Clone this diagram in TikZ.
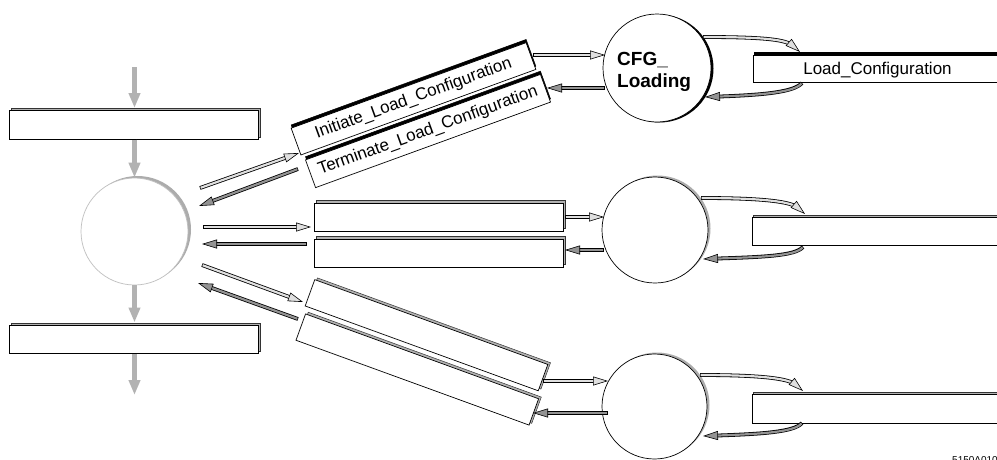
\documentclass[tikz,border=0pt]{standalone}
\usepackage{fontspec}
\setmainfont{Liberation Sans}
\usetikzlibrary{arrows.meta,decorations.markings,calc}
\begin{document}
\begin{tikzpicture}[x=1pt,y=-1pt,
  frontbox/.style={draw=black, fill=white, line width=0.7pt, minimum width=249pt, minimum height=28.5pt, inner sep=0pt, font=\fontsize{17}{20}\selectfont},
  greyshadow/.style={draw=black!80, fill=gray!60, line width=0.5pt, minimum width=249pt, minimum height=28.5pt, inner sep=0pt},
  blackshadow/.style={draw=black, fill=black, line width=0.5pt, minimum width=249pt, minimum height=28.5pt, inner sep=0pt},
  bubble/.style={circle, draw=black, fill=white, line width=0.7pt, inner sep=0pt},
  bubbleshade/.style={circle, draw=none, fill=#1, inner sep=0pt},
  garrow/.style={draw=gray!60, line width=4.5pt, -{Triangle[length=15pt,width=11pt]}},
  barrow/.style={draw=#1, line width=2.2pt, shorten >=10pt, shorten <=0.7pt,
    preaction={draw=black, line width=3.8pt, shorten >=10pt, shorten <=0pt},
    postaction={decorate, decoration={markings, mark=at position 1 with {\arrow[line width=0.6pt, black]{Triangle[length=15pt, width=9pt, fill=#1]}}}}},
  outarrow/.style={barrow=gray!25},
  inarrow/.style={barrow=gray!85}
]
\useasboundingbox (0,0) rectangle (997,459);
\fill[white] (0,0) rectangle (997,459);
\clip (0,0) rectangle (997,459);

% ---------- left column ----------
\node[greyshadow] (R1s) at (136,122.5) {};
\node[frontbox] (R1) at (134,125) {};
\node[bubbleshade=gray!65, minimum size=107pt] (Ls) at (137.5,229.5) {};
\node[bubble, draw=gray!50, minimum size=107pt] (L) at (134.5,231.5) {};
\node[greyshadow] (R2s) at (136,337) {};
\node[frontbox] (R2) at (134,339.5) {};
\coordinate (Ltop) at (134.5,67);
\coordinate (Lbot) at (134.5,395);
\draw[garrow] (Ltop) -- (Ltop |- R1s.north);
\draw[garrow] (L.north |- R1.south) -- (L.north);
\draw[garrow] (L.south) -- (L.south |- R2s.north);
\draw[garrow] (L.south |- R2.south) -- (Lbot);

% ---------- top pair (rotated) ----------
\node[blackshadow, rotate=20, minimum width=250pt] (T1s) at (413.5,95.6) {};
\node[frontbox, rotate=20, minimum width=250pt] (T1) at (413.5,98.8) {Initiate\_Load\_Configuration};
\node[blackshadow, rotate=20, minimum width=250pt, minimum height=29.5pt] (T2s) at (428,127.8) {};
\node[frontbox, rotate=20, minimum width=250pt, minimum height=29.5pt] (T2) at (428,131) {Terminate\_Load\_Configuration};

% ---------- middle pair ----------
\node[greyshadow, minimum height=28pt] (M1s) at (440.5,214.7) {};
\node[frontbox, minimum height=28pt] (M1) at (438.5,217) {};
\node[greyshadow, minimum height=28pt] (M2s) at (440.5,250.5) {};
\node[frontbox, minimum height=28pt] (M2) at (438.5,253) {};

% ---------- bottom pair (rotated) ----------
\node[greyshadow, rotate=-20, minimum width=248pt, minimum height=28pt] (B1s) at (429.2,333.5) {};
\node[frontbox, rotate=-20, minimum width=248pt, minimum height=28pt] (B1) at (426.5,335.2) {};
\node[greyshadow, rotate=-20, minimum width=248pt, minimum height=28pt] (B2s) at (420,367.8) {};
\node[frontbox, rotate=-20, minimum width=248pt, minimum height=28pt] (B2) at (417.3,369.5) {};

% ---------- right circles ----------
\node[bubbleshade=black, minimum size=108pt] (E1s) at (659.5,68.5) {};
\node[bubble, minimum size=108pt] (E1) at (657,68) {};
\node[anchor=north west, align=left, inner sep=0pt, font=\bfseries\fontsize{19}{21.6}\selectfont] (E1t) at (617,52) {CFG\_\\Loading};
\node[bubbleshade=gray!65, minimum size=106pt] (E2s) at (657.5,228.5) {};
\node[bubble, minimum size=106pt] (E2) at (655,230) {};
\node[bubbleshade=gray!65, minimum size=105pt] (E3s) at (657,405) {};
\node[bubble, minimum size=105pt] (E3) at (654.5,406.5) {};

% ---------- right rectangles ----------
\node[blackshadow, minimum width=257pt, minimum height=27pt] (D1s) at (882.5,65.5) {};
\node[frontbox, minimum width=257pt, minimum height=27pt] (D1) at (881.5,68.5) {};
\node[anchor=base, inner sep=0pt, font=\fontsize{17}{20}\selectfont] (D1t) at (877.5,74) {Load\_Configuration};
\node[greyshadow, minimum width=258pt, minimum height=28pt] (D2s) at (882.5,229) {};
\node[frontbox, minimum width=258pt, minimum height=28pt] (D2) at (881,231.6) {};
\node[greyshadow, minimum width=258pt, minimum height=28.5pt] (D3s) at (882.5,406.5) {};
\node[frontbox, minimum width=258pt, minimum height=28.5pt] (D3) at (881,409) {};

% ---------- connector end points ----------
\coordinate (a1s) at (200,188);  \coordinate (a1e) at (299,153);
\coordinate (a2s) at (298,169);  \coordinate (a2e) at (199,206);
\coordinate (a3s) at (203,227);  \coordinate (a3e) at (311,227);
\coordinate (a4s) at (307,244);  \coordinate (a4e) at (202,244);
\coordinate (a5s) at (202,265);  \coordinate (a5e) at (303,302);
\coordinate (a6s) at (298,319);  \coordinate (a6e) at (198,283);

\coordinate (b1s) at (533,55);   \coordinate (b1e) at (605,55);
\coordinate (b2s) at (605,88);   \coordinate (b2e) at (547,88);
\coordinate (b3s) at (565,217);  \coordinate (b3e) at (604,217);
\coordinate (b4s) at (604,250);  \coordinate (b4e) at (565,250);
\coordinate (b5s) at (543,381);  \coordinate (b5e) at (608,381);
\coordinate (b6s) at (608,413);  \coordinate (b6e) at (533,413);

\coordinate (c1s) at (703,37);   \coordinate (c1e) at (800,52);
\coordinate (c2s) at (802,83);   \coordinate (c2e) at (705,97);
\coordinate (c3s) at (701,198);  \coordinate (c3e) at (805,214);
\coordinate (c4s) at (803,247);  \coordinate (c4e) at (703,259);
\coordinate (c5s) at (700,375);  \coordinate (c5e) at (803,391);
\coordinate (c6s) at (802,423);  \coordinate (c6e) at (703,436);

% ---------- connectors ----------
\draw[outarrow] (a1s) -- (a1e);
\draw[inarrow]  (a2s) -- (a2e);
\draw[outarrow] (a3s) -- (a3e);
\draw[inarrow]  (a4s) -- (a4e);
\draw[outarrow] (a5s) -- (a5e);
\draw[inarrow]  (a6s) -- (a6e);

\draw[outarrow] (b1s) -- (b1e);
\draw[inarrow]  (b2s) -- (b2e);
\draw[outarrow] (b3s) -- (b3e);
\draw[inarrow]  (b4s) -- (b4e);
\draw[outarrow] (b5s) -- (b5e);
\draw[inarrow]  (b6s) -- (b6e);

\draw[outarrow] (c1s) .. controls +(65,0) and +(-14,-12) .. (c1e);
\draw[inarrow]  (c2s) .. controls +(-8,9) and +(60,-2) .. (c2e);
\draw[outarrow] (c3s) .. controls +(65,0) and +(-14,-12) .. (c3e);
\draw[inarrow]  (c4s) .. controls +(-8,9) and +(60,-2) .. (c4e);
\draw[outarrow] (c5s) .. controls +(65,0) and +(-14,-12) .. (c5e);
\draw[inarrow]  (c6s) .. controls +(-8,9) and +(60,-2) .. (c6e);

% ---------- figure code (cut by the edge) ----------
\node[anchor=north west, inner sep=0pt, font=\fontsize{10}{11}\selectfont] (code) at (952,456.5) {5150A010};
\end{tikzpicture}
\end{document}
